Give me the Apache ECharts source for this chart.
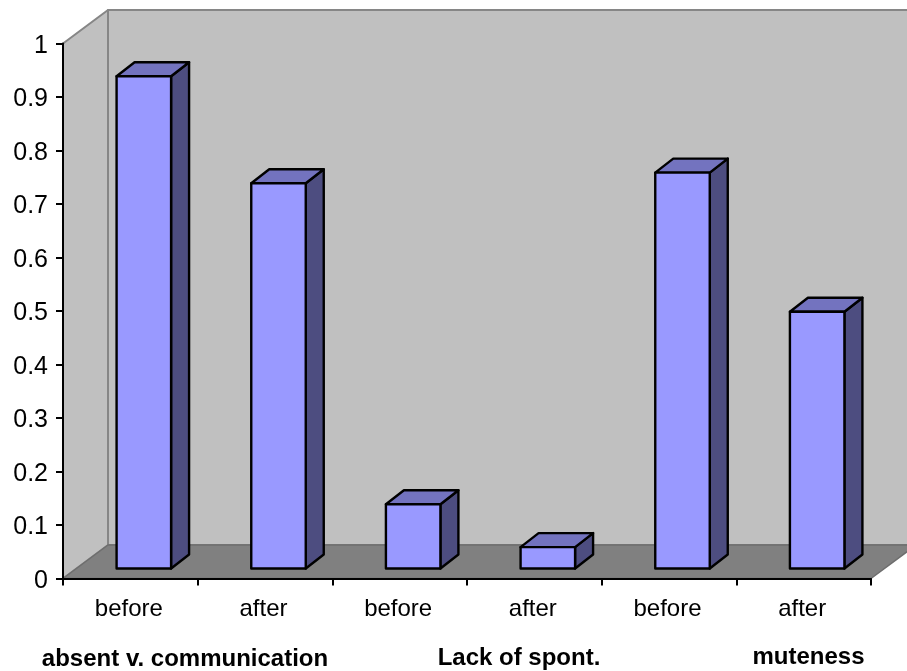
<!DOCTYPE html>
<html>
<head>
<meta charset="utf-8">
<style>
  html, body { margin: 0; padding: 0; background: #fff; }
  #chart { width: 907px; height: 671px; }
</style>
<script src="https://cdn.jsdelivr.net/npm/echarts@6/dist/echarts.min.js"></script>
</head>
<body>
<div id="chart"></div>
<script>
const categories = ['before', 'after', 'before', 'after', 'before', 'after'];
const values = [0.92, 0.72, 0.12, 0.04, 0.74, 0.48];
const groupLabels = ['absent v. communication', 'Lack of spont.', 'muteness'];
const yTicks = { min: 0, max: 1, interval: 0.1 };

const FONT = '"Liberation Sans", Arial, sans-serif';
const chart = echarts.init(document.getElementById('chart'), null, { renderer: 'canvas' });

// pixel offsets of the fake 3d box
const wallDx = 45, wallDy = -33.5;
const barDx = 13.5, barDy = -10, barDepthX = 18, barDepthY = -14, barWidth = 54.5;

function poly(points, fill, stroke, lineWidth) {
  return {
    type: 'polygon',
    shape: { points: points },
    style: { fill: fill, stroke: stroke, lineWidth: lineWidth, lineJoin: 'round' }
  };
}

function renderWalls(params, api) {
  const left = api.coord([0, yTicks.min])[0] - api.size([1, 0])[0] / 2;
  const right = left + api.size([1, 0])[0] * categories.length;
  const y0 = api.coord([0, yTicks.min])[1];
  const y1 = api.coord([0, yTicks.max])[1];
  return {
    type: 'group',
    children: [
      poly([[left + wallDx, y1 + wallDy], [right + wallDx, y1 + wallDy], [right + wallDx, y0 + wallDy], [left + wallDx, y0 + wallDy]], '#c0c0c0', '#868686', 2),
      poly([[left, y1], [left + wallDx, y1 + wallDy], [left + wallDx, y0 + wallDy], [left, y0]], '#c0c0c0', '#868686', 2),
      poly([[left, y0], [left + wallDx, y0 + wallDy], [right + wallDx, y0 + wallDy], [right, y0]], '#808080', '#6e6e6e', 1.5)
    ]
  };
}

function renderBar(params, api) {
  const top = api.coord([api.value(0), api.value(1)]);
  const base = api.coord([api.value(0), 0]);
  const x0 = top[0] + barDx - barWidth / 2;
  const x1 = x0 + barWidth;
  const yt = top[1] + barDy;
  const yb = base[1] + barDy;
  return {
    type: 'group',
    children: [
      poly([[x1, yt], [x1 + barDepthX, yt + barDepthY], [x1 + barDepthX, yb + barDepthY], [x1, yb]], '#4d4d80', '#000', 2.4),
      poly([[x0, yt], [x0 + barDepthX, yt + barDepthY], [x1 + barDepthX, yt + barDepthY], [x1, yt]], '#7373bf', '#000', 2.4),
      poly([[x0, yt], [x1, yt], [x1, yb], [x0, yb]], '#9999ff', '#000', 2.4)
    ]
  };
}

const option = {
  backgroundColor: '#fff',
  animation: false,
  textStyle: { fontFamily: FONT },
  grid: { left: 63, right: 36, top: 43.5, bottom: 92.5, containLabel: false },
  xAxis: {
    type: 'category',
    data: categories,
    z: 10,
    axisLine: { show: true, lineStyle: { color: '#000', width: 2 } },
    axisTick: { show: true, length: 7, lineStyle: { color: '#000', width: 2 } },
    axisLabel: { interval: 0, margin: 19, fontSize: 24, color: '#000', fontFamily: FONT, padding: [0, 3, 0, 0] }
  },
  yAxis: {
    type: 'value',
    min: yTicks.min,
    max: yTicks.max,
    interval: yTicks.interval,
    z: 10,
    splitLine: { show: false },
    axisLine: { show: true, lineStyle: { color: '#000', width: 2 } },
    axisTick: { show: true, length: 7, lineStyle: { color: '#000', width: 2 } },
    axisLabel: { margin: 15, fontSize: 25, color: '#000', fontFamily: FONT, verticalAlign: 'top', lineHeight: 5 }
  },
  series: [
    { type: 'custom', name: 'walls', z: 1, silent: true, renderItem: renderWalls, data: [[0, 0]] },
    {
      type: 'custom',
      name: 'bars',
      z: 2,
      renderItem: renderBar,
      encode: { x: 0, y: 1 },
      data: values.map((v, i) => [i, v])
    }
  ],
  graphic: [
    { type: 'text', x: 185, y: 659, style: { text: groupLabels[0], font: 'bold 24px ' + FONT, fill: '#000', align: 'center', verticalAlign: 'middle' } },
    { type: 'text', x: 519, y: 658, style: { text: groupLabels[1], font: 'bold 24px ' + FONT, fill: '#000', align: 'center', verticalAlign: 'middle' } },
    { type: 'text', x: 808.5, y: 657, style: { text: groupLabels[2], font: 'bold 24px ' + FONT, fill: '#000', align: 'center', verticalAlign: 'middle' } }
  ]
};

chart.setOption(option);
</script>
</body>
</html>
